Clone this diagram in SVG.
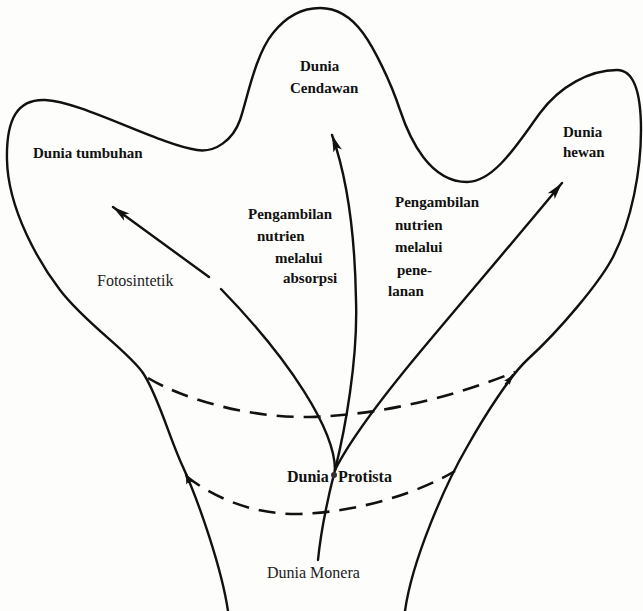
<svg xmlns="http://www.w3.org/2000/svg" width="643" height="611" viewBox="0 0 643 611">
<style>
.line{fill:none;stroke:#111;stroke-width:2.4;stroke-linecap:round;stroke-linejoin:round}
.dash{fill:none;stroke:#111;stroke-width:2.6;stroke-dasharray:17 10}
.lbl{font-family:"Liberation Serif","Times New Roman",serif;font-size:15px;font-weight:bold;fill:#111}
.thin{font-weight:normal;font-size:16px;fill:#222}
</style>
<defs>
<marker id="arrow" viewBox="-18 -6 19 12" refX="0" refY="0" markerWidth="19" markerHeight="12" markerUnits="userSpaceOnUse" orient="auto">
<path d="M0,0 L-17,-4.5 L-13,0 L-17,4.5 Z" fill="#111"/>
</marker>
<marker id="wallArrow" viewBox="-12 -5 13 10" refX="0" refY="0" markerWidth="13" markerHeight="10" markerUnits="userSpaceOnUse" orient="auto">
<path d="M0,0 L-10,-3.5 L-8,0 L-10,3.5 Z" fill="#111"/>
</marker>
</defs>
<rect width="643" height="611" fill="#fdfdfb"/>
<g id="outline">
<path class="line" d="M228,611 C222,570 200,505 183,467 C170,440 158,395 143,373 C128,351 85,323 60,290 C40,264 8,210 7,160 C6,118 18,99 45,100 C80,101 160,145 197,150 C215,153 233,140 240,120 C247,100 255,55 273,33 C285,18 300,8 320,8 C338,8 352,18 363,33 C374,48 390,80 400,110 C410,140 430,182 467,182 C495,182 520,140 540,113 C560,86 590,70 617,70 C635,70 641,95 641,130 C641,170 632,220 613,257 C600,282 560,330 527,360 C510,376 485,415 467,447 C445,485 412,560 405,611"/>
<path class="line" d="M189,482 L186,474" marker-end="url(#wallArrow)"/>
<path class="line" d="M506,384 L513,375" marker-end="url(#wallArrow)"/>
</g>
<g id="connectors">
<path id="trunk" class="line" d="M318,560 C322,520 330,490 335,470"/>
<path id="to-tumbuhan-a" class="line" d="M335,470 C335,430 290,360 221,289"/>
<path id="to-tumbuhan-b" class="line" d="M209,277 L113,207" marker-end="url(#arrow)"/>
<path id="to-cendawan" class="line" d="M335,470 C345,430 358,360 356,300 C355,240 348,180 332,135" marker-end="url(#arrow)"/>
<path id="to-hewan" class="line" d="M335,470 C350,440 380,400 420,352 C460,304 525,228 562,183" marker-end="url(#arrow)"/>
<path id="dash-upper" class="dash" d="M148,378 C185,400 250,418 310,417 C380,415 450,398 515,372"/>
<path id="dash-lower" class="dash" d="M186,476 C210,495 250,515 300,514 C360,512 420,492 455,471"/>
</g>
<g id="node-tumbuhan"><text class="lbl" x="33" y="158">Dunia tumbuhan</text></g>
<g id="node-cendawan"><text class="lbl" x="300" y="71">Dunia</text><text class="lbl" x="290" y="93">Cendawan</text></g>
<g id="node-hewan"><text class="lbl" x="563" y="137">Dunia</text><text class="lbl" x="563" y="157">hewan</text></g>
<g id="label-absorpsi"><text class="lbl" x="248" y="219">Pengambilan</text><text class="lbl" x="257" y="241">nutrien</text><text class="lbl" x="275" y="263">melalui</text><text class="lbl" x="283" y="283">absorpsi</text></g>
<g id="label-penelanan"><text class="lbl" x="395" y="207">Pengambilan</text><text class="lbl" x="395" y="230">nutrien</text><text class="lbl" x="395" y="252">melalui</text><text class="lbl" x="397" y="275">pene-</text><text class="lbl" x="388" y="296">lanan</text></g>
<g id="label-fotosintetik"><text class="lbl thin" x="97" y="286">Fotosintetik</text></g>
<g id="node-protista"><text class="lbl" x="287" y="482" style="font-size:16px">Dunia</text><circle cx="334" cy="475" r="3" fill="#333"/><text class="lbl" x="338" y="482" style="font-size:16px">Protista</text></g>
<g id="node-monera"><text class="lbl thin" x="267" y="578">Dunia Monera</text></g>
</svg>
